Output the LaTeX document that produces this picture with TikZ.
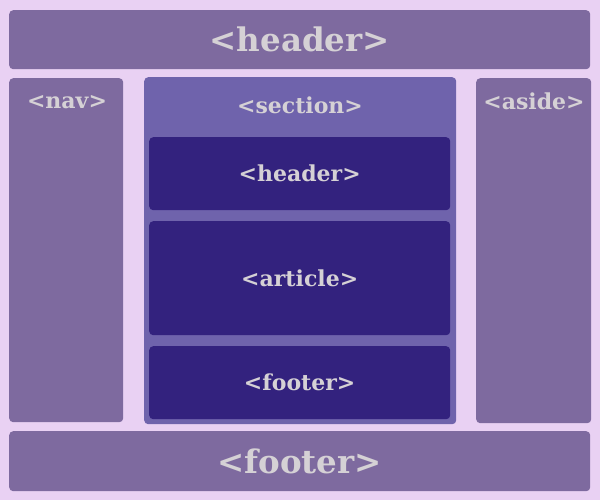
\documentclass[tikz,border=0pt]{standalone}
\usepackage{fontspec}
\setmainfont{DejaVu Serif}
\definecolor{bgc}{HTML}{E9D1F3}
\definecolor{boxc}{HTML}{7E6A9F}
\definecolor{secc}{HTML}{6F63AC}
\definecolor{innc}{HTML}{33227E}
\definecolor{txtc}{HTML}{D5D1D5}
\begin{document}
\begin{tikzpicture}[x=1pt,y=-1pt,
  blk/.style={rectangle,rounded corners=4pt,inner sep=0pt,anchor=north west},
  outerbox/.style={blk,fill=boxc},
  bigbox/.style={blk,fill=boxc,text=txtc,font=\bfseries\fontsize{32.5}{38}\selectfont},
  secbox/.style={blk,fill=secc},
  innbox/.style={blk,fill=innc,text=txtc,font=\bfseries\fontsize{22}{26}\selectfont},
  smalltxt/.style={text=txtc,font=\bfseries\fontsize{22}{26}\selectfont,inner sep=0pt}]
\fill[bgc] (0,0) rectangle (600,500);
\useasboundingbox (0,0) rectangle (600,500);
% outer boxes
\node[bigbox,minimum width=581pt,minimum height=59pt] (hdr) at (9,10) {<header>};
\node[outerbox,minimum width=114pt,minimum height=344pt] (nav) at (9,78) {};
\node[smalltxt] (navt) at (67,102) {<nav>};
\node[secbox,minimum width=312pt,minimum height=347pt] (sec) at (144,77) {};
\node[smalltxt] (sect) at (300,105) {<section>};
\node[outerbox,minimum width=115pt,minimum height=345pt] (aside) at (476,78) {};
\node[smalltxt] (asidet) at (534,101) {<aside>};
\node[bigbox,minimum width=581pt,minimum height=60pt] (ftr) at (9,431) {<footer>};
% inner boxes
\node[innbox,minimum width=301pt,minimum height=73pt] (ihdr) at (149,137) {<header>};
\node[innbox,minimum width=301pt,minimum height=114pt] (iart) at (149,221) {<article>};
\node[innbox,minimum width=301pt,minimum height=73pt] (iftr) at (149,346) {<footer>};
\end{tikzpicture}
\end{document}
